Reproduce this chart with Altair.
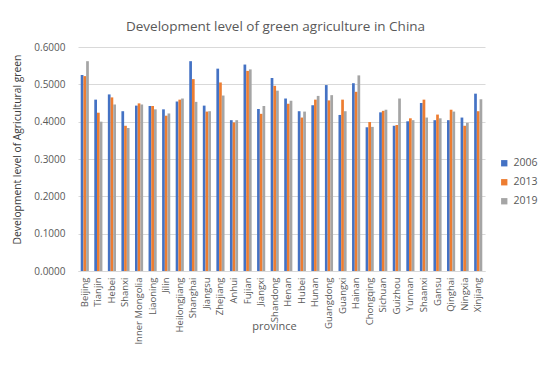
import altair as alt
import pandas as pd

provinces = ["Beijing", "Tianjin", "Hebei", "Shanxi", "Inner Mongolia", "Liaoning", "Jilin",
             "Heilongjiang", "Shanghai", "Jiangsu", "Zhejiang", "Anhui", "Fujian", "Jiangxi",
             "Shandong", "Henan", "Hubei", "Hunan", "Guangdong", "Guangxi", "Hainan",
             "Chongqing", "Sichuan", "Guizhou", "Yunnan", "Shaanxi", "Gansu", "Qinghai",
             "Ningxia", "Xinjiang"]
v2006 = [0.525, 0.459, 0.473, 0.428, 0.443, 0.442, 0.433, 0.454, 0.562, 0.443, 0.542, 0.404,
         0.553, 0.434, 0.517, 0.462, 0.428, 0.444, 0.498, 0.418, 0.503, 0.385, 0.425, 0.389,
         0.401, 0.450, 0.404, 0.404, 0.411, 0.475]
v2013 = [0.522, 0.424, 0.465, 0.389, 0.449, 0.442, 0.416, 0.459, 0.514, 0.427, 0.505, 0.398,
         0.536, 0.421, 0.496, 0.448, 0.411, 0.459, 0.457, 0.459, 0.480, 0.399, 0.429, 0.391,
         0.409, 0.459, 0.419, 0.432, 0.389, 0.428]
v2019 = [0.562, 0.400, 0.446, 0.383, 0.446, 0.433, 0.422, 0.462, 0.453, 0.428, 0.470, 0.404,
         0.540, 0.442, 0.483, 0.456, 0.427, 0.469, 0.471, 0.428, 0.524, 0.386, 0.432, 0.462,
         0.404, 0.411, 0.409, 0.427, 0.397, 0.460]
years = ["2006", "2013", "2019"]
colors = ["#4472C4", "#ED7D31", "#A5A5A5"]

rows = []
for i, p in enumerate(provinces):
    for y, vals in zip(years, [v2006, v2013, v2019]):
        rows.append({"province": p, "year": y, "value": vals[i]})
df = pd.DataFrame(rows)

FONT = "Open Sans"
GRAY = "#595959"

chart = alt.Chart(df).mark_bar().encode(
    x=alt.X("province:N", sort=provinces,
            scale=alt.Scale(paddingInner=0.4, paddingOuter=0.2),
            axis=alt.Axis(title="province", labelAngle=-90, labelFontSize=9.5,
                          labelColor=GRAY, labelFont=FONT, ticks=False, domainColor="#D9D9D9",
                          labelPadding=6, titleFont=FONT, titleFontSize=11, titleFontWeight="normal",
                          titleColor=GRAY, titleY=49, titleX=196)),
    xOffset=alt.XOffset("year:N", sort=years),
    y=alt.Y("value:Q", scale=alt.Scale(domain=[0, 0.6], nice=False),
            axis=alt.Axis(title="Development level of Agricultural green", format=".4f",
                          values=[0, 0.1, 0.2, 0.3, 0.4, 0.5, 0.6], ticks=False, domain=False,
                          gridColor="#D9D9D9", labelColor=GRAY, labelFont=FONT, labelFontSize=10,
                          labelPadding=13, titleFont=FONT, titleFontSize=10.3,
                          titleFontWeight="normal", titleColor="#404040", titleX=-56,
                          titleY=102)),
    color=alt.Color("year:N", sort=years, scale=alt.Scale(domain=years, range=colors),
                    legend=alt.Legend(title=None, orient="none", legendX=421, legendY=111,
                                      symbolType="square", symbolSize=40, symbolStrokeWidth=0,
                                      labelFont=FONT, labelFontSize=10.5, labelColor=GRAY,
                                      rowPadding=8)),
).properties(
    width=407, height=224,
    title=alt.TitleParams("Development level of green agriculture in China", font=FONT,
                          fontSize=13.5, fontWeight="normal", color=GRAY, anchor="middle",
                          offset=9, dx=-6),
    padding={"left": 70, "top": 39, "right": 57, "bottom": 102},
    autosize=alt.AutoSizeParams(type="none"),
).configure_view(stroke=None)

chart.save("out.html", embed_options={"renderer": "svg", "actions": False})
